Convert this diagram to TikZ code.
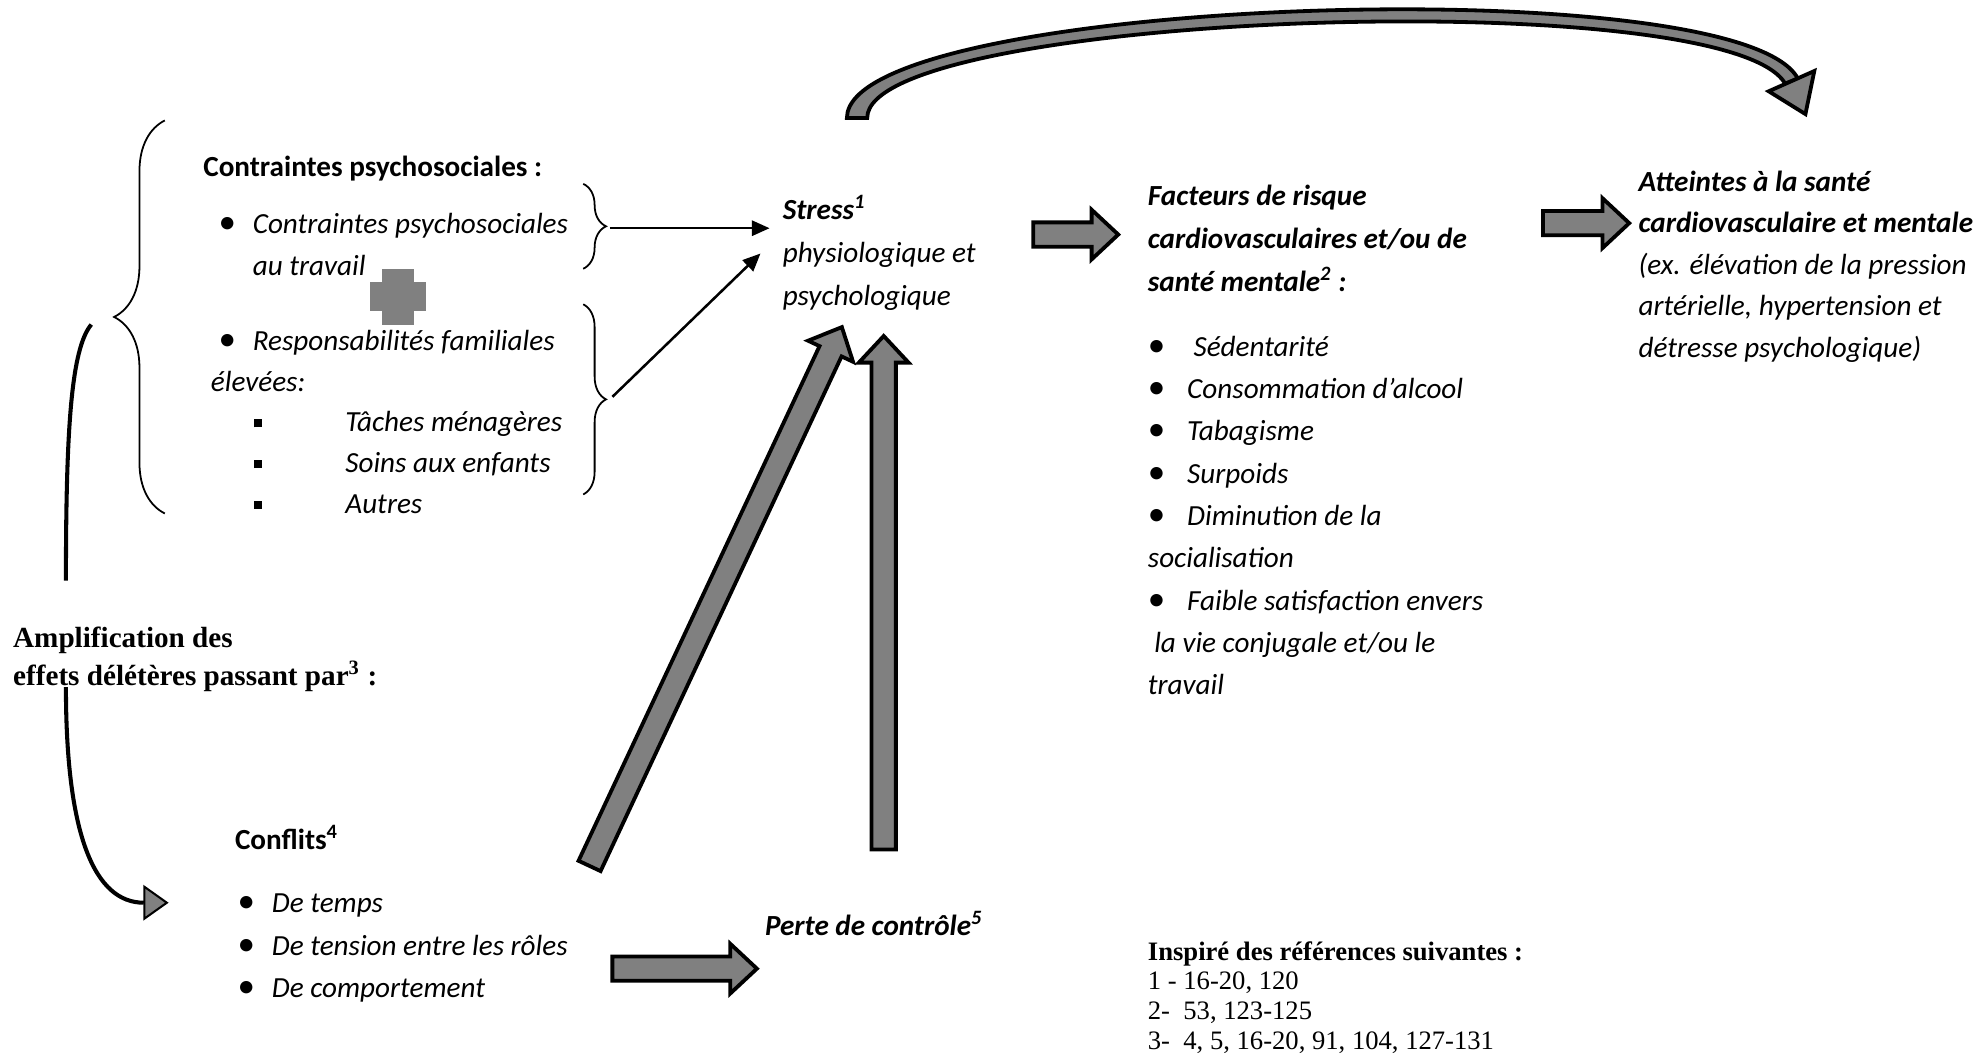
\documentclass[tikz,border=0pt]{standalone}
\usepackage{fontspec}
\setmainfont{Carlito}
\newfontfamily\timesfont{Liberation Serif}
\usetikzlibrary{calc,arrows.meta,decorations.pathreplacing}
\newcommand\fatshaft{4.8pt}
\newcommand\fatwing{9.8pt}
\newcommand\fathead{10.5pt}
\newcommand\puce[1]{\makebox[#1][l]{\upshape\scalebox{1.2}{\textbullet}}}
\newcommand\carre[1]{\makebox[#1][l]{\rule[1.8pt]{3.3pt}{3.3pt}}}
\tikzset{
	txt/.style={anchor=base west, inner sep=0pt, align=left, font=\fontsize{11.5}{16.5}\selectfont},
	itxt/.style={txt, font=\fontsize{11.5}{16.5}\selectfont\itshape},
	brace/.style={decorate, line width=0.7pt},
	link/.style={line width=1pt, shorten >=5pt, -{Triangle[length=7pt,width=6pt]}},
	bendline/.style={line width=1.6pt},
	fatline/.style={draw=black, fill=gray, line width=1.5pt, line join=miter},
	fat/.style={fatline, to path={let \p1=(\tikztostart), \p2=(\tikztotarget),
		\n1={atan2(\y2-\y1,\x2-\x1)}, \n2={veclen(\x2-\x1,\y2-\y1)} in
		($(\p1)+(\n1+90:\fatshaft)$) -- ($(\p1)+(\n1:\n2-\fathead)+(\n1+90:\fatshaft)$)
		-- ($(\p1)+(\n1:\n2-\fathead)+(\n1+90:\fatwing)$) -- (\p2)
		-- ($(\p1)+(\n1:\n2-\fathead)+(\n1-90:\fatwing)$)
		-- ($(\p1)+(\n1:\n2-\fathead)+(\n1-90:\fatshaft)$)
		-- ($(\p1)+(\n1-90:\fatshaft)$) -- cycle}}
}
\begin{document}
\begin{tikzpicture}[x=0.5pt,y=-0.5pt]
	\useasboundingbox (0,0) rectangle (1568,834);
	\node[txt] (cph) at (160,139) {\bfseries Contraintes psychosociales :};
	\node[itxt] (cpw) at (172,217) {\puce{13.5pt}Contraintes psychosociales\\\hspace*{13.5pt}au travail};
	\node[itxt, font=\fontsize{11.5}{16.1}\selectfont\itshape] (cpf) at (166,405) {\hspace*{3pt}\puce{13.5pt}Responsabilités familiales\\élevées:\\\hspace*{17pt}\carre{36pt}Tâches ménagères\\\hspace*{17pt}\carre{36pt}Soins aux enfants\\\hspace*{17pt}\carre{36pt}Autres};
	\node[itxt, font=\fontsize{11.5}{17}\selectfont\itshape\bfseries] (stress) at (617,173) {Stress\textsuperscript{1}};
	\node[itxt, font=\fontsize{11.5}{17}\selectfont\itshape] (stressd) at (617,241) {physiologique et\\psychologique};
	\node[itxt, font=\fontsize{11.5}{17}\selectfont\itshape\bfseries] (fact) at (905,230) {Facteurs de risque\\cardiovasculaires et/ou de\\santé mentale\textsuperscript{2} :};
	\node[itxt, font=\fontsize{11.5}{16.7}\selectfont\itshape] (factl) at (905,548) {\puce{15.5pt}\hspace{2.5pt}Sédentarité\\\puce{15.5pt}Consommation d’alcool\\\puce{15.5pt}Tabagisme\\\puce{15.5pt}Surpoids\\\puce{15.5pt}Diminution de la\\socialisation\\\puce{15.5pt}Faible satisfaction envers\\\hspace*{2.5pt}la vie conjugale et/ou le\\travail};
	\node[itxt, font=\fontsize{11.5}{16.4}\selectfont\itshape] (att) at (1292,282) {\textbf{Atteintes à la santé}\\\textbf{cardiovasculaire et mentale}\\(ex. élévation de la pression\\artérielle, hypertension et\\détresse psychologique)};
	\node[txt, font=\timesfont\bfseries\fontsize{11.5}{15}\selectfont] (ampl) at (10,541) {Amplification des\\effets délétères passant par\textsuperscript{3} :};
	\node[txt] (confh) at (185,670) {\bfseries Conflits\textsuperscript{4}};
	\node[itxt, font=\fontsize{11.5}{16.75}\selectfont\itshape] (confl) at (187,787) {\puce{13.5pt}De temps\\\puce{13.5pt}De tension entre les rôles\\\puce{13.5pt}De comportement};
	\node[itxt] (perte) at (603,738) {\bfseries Perte de contrôle\textsuperscript{5}};
	\node[txt, font=\timesfont\fontsize{10.5}{11.8}\selectfont] (refs) at (905,828) {\textbf{Inspiré des références suivantes :}\\1 - 16-20, 120\\2-~~53, 123-125\\3-~~4, 5, 16-20, 91, 104, 127-131};

	\fill[gray] (301.5,212) rectangle (326.5,256);
	\fill[gray] (292,222.5) rectangle (336,245.5);

	\draw[brace, decoration={brace, amplitude=20pt}] (130,405) -- (130,95);
	\draw[brace, decoration={brace, amplitude=9pt}] (460,145) -- (460,212);
	\draw[brace, decoration={brace, amplitude=9pt}] (460,240) -- (460,390);
	\coordinate (b1) at (481,180);
	\coordinate (b2) at (483,313);
	\draw[link] (b1) -- (b1 -| stress.west);
	\draw[link] (b2) -- ([shift={(-5pt,-10pt)}]stress.base west);

	\coordinate (fa1) at (815,185);
	\coordinate (fa2) at (882,185);
	\coordinate (fb1) at (1217,176);
	\coordinate (fb2) at (1285,176);
	\coordinate (fc1) at (483,764);
	\coordinate (fc2) at (597,764);
	\coordinate (fd1) at (697,670);
	\coordinate (fd2) at (697,265);
	\coordinate (fe1) at (465,683);
	\coordinate (fe2) at (664,258);
	\draw[fat] (fa1) to (fa2);
	\draw[fat] (fb1) to (fb2);
	\draw[fat] (fc1) to (fc2);
	\draw[fat] (fd1) to (fd2);
	\draw[fat] (fe1) to (fe2);

	\draw[fatline] (668,93) .. controls (668,-2) and (1372,-26) .. (1418,62) -- (1408,66) .. controls (1362,-14) and (684,10) .. (684,93) -- cycle;
	\draw[fatline] (1395,72) -- (1424,90) -- (1431,56) -- cycle;

	\coordinate (g1a) at (72,256);
	\coordinate (g1b) at (52,458);
	\coordinate (g2a) at (52,542);
	\coordinate (g2b) at (133,712);
	\draw[bendline] (g1a) .. controls (56,275) and (52,340) .. (g1b);
	\draw[bendline, -{Triangle[length=10pt,width=14pt,fill=gray,line width=0.8pt]}] (g2a) .. controls (52,660) and (75,712) .. (g2b);
\end{tikzpicture}
\end{document}
